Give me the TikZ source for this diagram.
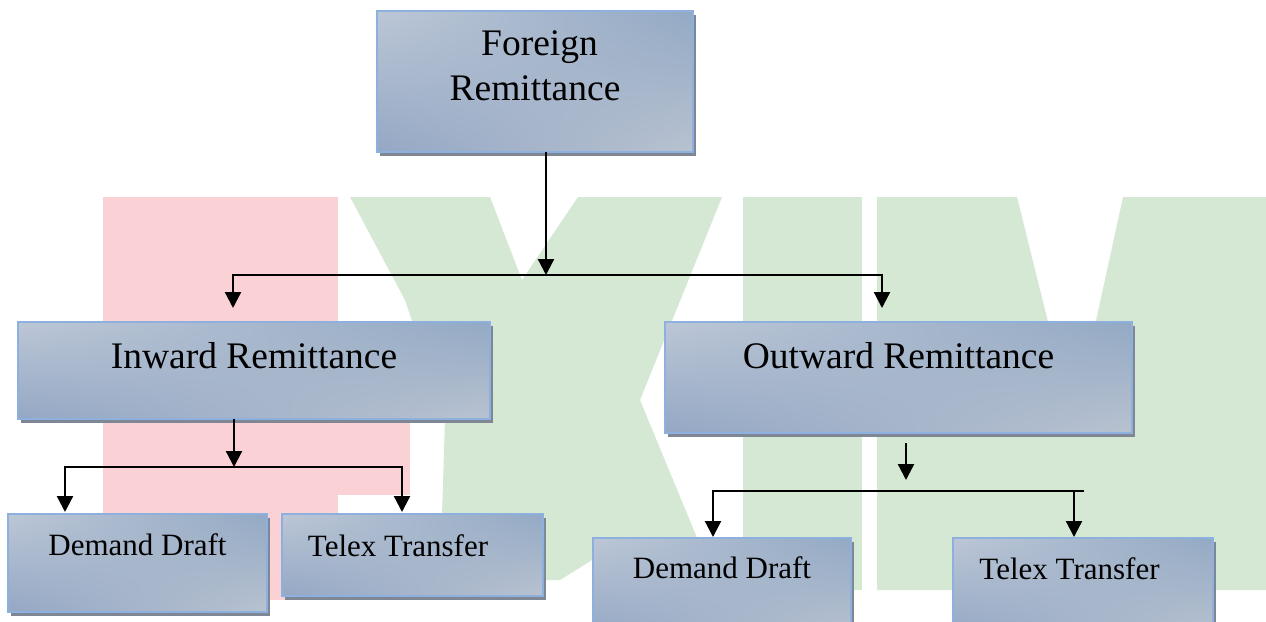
\documentclass[tikz,border=0pt]{standalone}
\usepackage{fontspec}
\setmainfont{Liberation Serif}
\usetikzlibrary{arrows.meta,shadows,shadings}

\definecolor{boxedge}{HTML}{8EB0DE}
\definecolor{boxshadow}{HTML}{7F8794}
\definecolor{shadeUL}{HTML}{BCC7D6}
\definecolor{shadeUR}{HTML}{93A9C4}
\definecolor{shadeLL}{HTML}{94A7C4}
\definecolor{shadeLR}{HTML}{B8C2D0}
\definecolor{markred}{HTML}{FAD1D4}
\definecolor{markgreen}{HTML}{D4E8D4}

\begin{document}
\begin{tikzpicture}[x=1pt,y=-1pt,
  box/.style={draw=boxedge, line width=1.8pt, inner sep=0pt, outer sep=0pt,
    anchor=north west, align=center,
    upper left=shadeUL, upper right=shadeUR, lower left=shadeLL, lower right=shadeLR,
    drop shadow={shadow xshift=3pt, shadow yshift=-4pt, fill=boxshadow, opacity=1}},
  bigtext/.style={font=\fontsize{37.5}{45}\selectfont},
  smalltext/.style={font=\fontsize{31}{37}\selectfont},
  link/.style={line width=2.3pt, draw=black},
  arr/.style={link, -{Triangle[length=16pt,width=16pt]}},
]
\useasboundingbox (0,0) rectangle (1266,621);
\fill[white] (0,0) rectangle (1266,621);

% faint EXIM logo behind the chart
\fill[markred] (103,197) rectangle (338,600);
\fill[markred] (338,420) rectangle (410,495);
\fill[markgreen] (350,197) -- (490,197) -- (522,280) -- (578,197) -- (722,197)
  -- (640,400) -- (700,545) -- (592,560) -- (560,580) -- (440,580)
  -- (445,420) -- (405,300) -- cycle;
\fill[markgreen] (743,197) rectangle (862,590);
\fill[markgreen] (877,197) -- (1017,197) -- (1050,330) -- (1066,420) -- (1080,420)
  -- (1094,330) -- (1123,197)
  -- (1266,197) -- (1266,590) -- (877,590) -- cycle;

% boxes
\node[box, bigtext, minimum width=316pt, minimum height=141pt,
      text height=71pt, text depth=34pt] (fr) at (377,11)
      {\hspace*{9pt}Foreign\\Remittance};
\node[box, bigtext, minimum width=472pt, minimum height=97pt,
      text height=26pt, text depth=31pt] (inw) at (18,322) {Inward Remittance};
\node[box, bigtext, minimum width=467pt, minimum height=111pt,
      text height=26pt, text depth=45pt] (outw) at (665,322) {Outward Remittance};
\node[box, smalltext, minimum width=259pt, minimum height=98pt,
      text height=22pt, text depth=38pt] (dd1) at (8,514) {Demand Draft};
\node[box, smalltext, minimum width=261pt, minimum height=82pt,
      text height=22pt, text depth=20pt] (tt1) at (282,514) {Telex Transfer\hspace*{29pt}};
\node[box, smalltext, minimum width=258pt, minimum height=98pt,
      text height=22pt, text depth=40pt] (dd2) at (593,538) {Demand Draft};
\node[box, smalltext, minimum width=260pt, minimum height=98pt,
      text height=22pt, text depth=38pt] (tt2) at (953,538) {Telex Transfer\hspace*{27pt}};

% top level connectors
\coordinate (j0) at (546,275);
\coordinate (jl) at (233,275);
\coordinate (jr) at (882,275);
\draw[arr] (fr.south -| j0) -- (j0);
\draw[arr, shorten >=14pt] (j0) -- (jl) -- (jl |- inw.north);
\draw[arr, shorten >=14pt] (j0) -- (jr) -- (jr |- outw.north);

% inward branch
\coordinate (k0) at (234,467);
\coordinate (kl) at (65,467);
\coordinate (kr) at (402,467);
\draw[arr] (inw.south -| k0) -- (k0);
\draw[arr, shorten >=2pt] (k0) -- (kl) -- (kl |- dd1.north);
\draw[arr, shorten >=2pt] (k0) -- (kr) -- (kr |- tt1.north);

% outward branch
\coordinate (m0) at (906,491);
\coordinate (ml) at (713,491);
\coordinate (mr) at (1074,491);
\coordinate (mend) at (1084,491);
\draw[arr, shorten <=10pt, shorten >=11pt] (outw.south -| m0) -- (m0);
\draw[arr, shorten >=1pt] (mend) -- (ml) -- (ml |- dd2.north);
\draw[arr, shorten >=1pt] (mr) -- (mr |- tt2.north);
\end{tikzpicture}
\end{document}
